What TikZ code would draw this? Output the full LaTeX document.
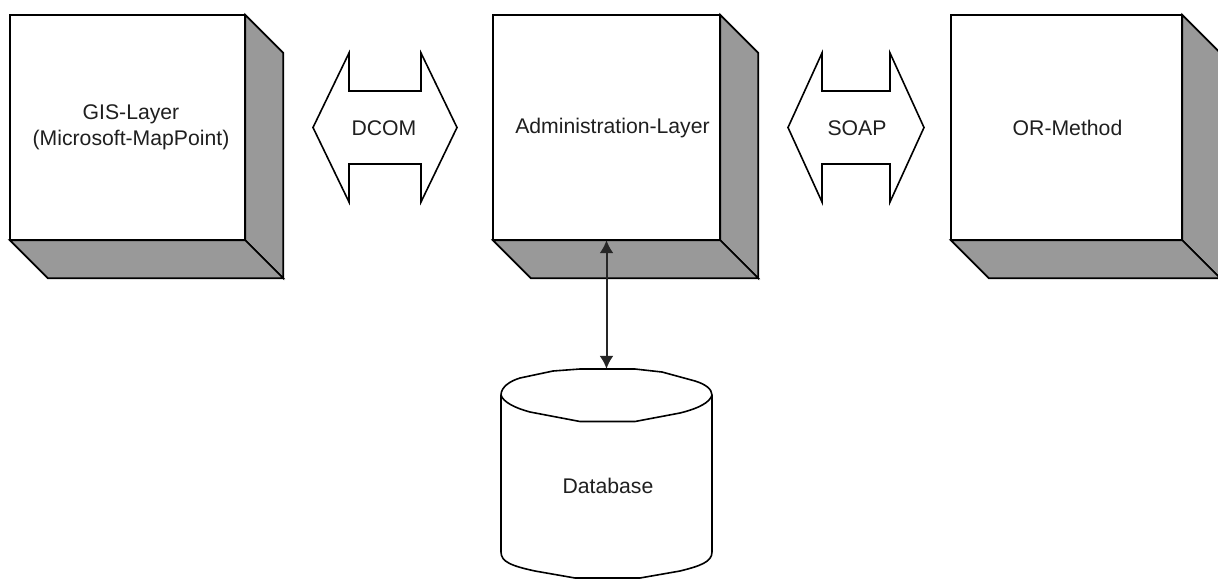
\documentclass[tikz,border=0pt]{standalone}
\usepackage{fontspec}
\setmainfont{Liberation Sans}
\usetikzlibrary{calc,arrows.meta}
\definecolor{sidegray}{HTML}{999999}
\tikzset{
  line/.style={draw=black,line width=1.7pt,line join=miter},
  front/.style={line,fill=white,inner sep=0pt},
  depth/.style={line,fill=sidegray},
  label/.style={inner sep=0pt,align=center,font=\fontsize{21.2}{26.5}\selectfont,text=black!88},
  link/.style={draw=black!85,line width=2pt,{Latex[length=13pt,width=14pt]}-{Latex[length=13pt,width=14pt]}},
  band/.style={line,fill=white,line width=1.6pt}
}
\begin{document}
\begin{tikzpicture}[x=1pt,y=-1pt]
\useasboundingbox (0,0) rectangle (1218,579);
\fill[white] (0,0) rectangle (1218,579);

% Blocks: depth faces, then front faces
\node[minimum width=235pt,minimum height=225pt,inner sep=0pt] (gis) at (127.5,127.5) {};
\node[minimum width=227pt,minimum height=225pt,inner sep=0pt] (admin) at (606.5,127.5) {};
\node[minimum width=231pt,minimum height=225pt,inner sep=0pt] (or) at (1066.5,127.5) {};
\foreach \b in {gis,admin,or}{
  \path[depth] (\b.north east) -- ($(\b.north east)+(38,38)$) -- ($(\b.south east)+(38,38)$) -- (\b.south east) -- cycle;
  \path[depth] (\b.south west) -- (\b.south east) -- ($(\b.south east)+(38,38)$) -- ($(\b.south west)+(38,38)$) -- cycle;
  \path[front] (\b.south west) rectangle (\b.north east);
}
\node[label] (gislabel) at (131,127.5) {GIS-Layer\\(Microsoft-MapPoint)};
\node[label] (adminlabel) at (612.5,128) {Administration-Layer};
\node[label] (orlabel) at (1067.5,128) {OR-Method};

% Double arrows
\coordinate (dcomc) at (385,127.5);
\coordinate (soapc) at (856,127.5);
\foreach \n/\o/\i in {dcomc/72/36,soapc/68/34}{
  \path[band] ($(\n)+(-\o,0)$) -- ($(\n)+(-\i,-74.5)$) -- ($(\n)+(-\i,-36.5)$) -- ($(\n)+(\i,-36.5)$) -- ($(\n)+(\i,-74.5)$) -- ($(\n)+(\o,0)$)
    -- ($(\n)+(\i,74.5)$) -- ($(\n)+(\i,36.5)$) -- ($(\n)+(-\i,36.5)$) -- ($(\n)+(-\i,74.5)$) -- cycle;
}
\node[label] (dcom) at (384,128) {DCOM};
\node[label] (soap) at (857,128) {SOAP};

% Database cylinder
\node[minimum width=211pt,minimum height=209pt,inner sep=0pt] (db) at (606.5,473.5) {};
\path[band] (501,395)
  .. controls (501,387) and (510,381) .. (520,378)
  -- (553,371) -- (580,369) -- (635,369) -- (662,372) -- (695,381)
  .. controls (705,384) and (712,389) .. (712,395)
  -- (712,552)
  .. controls (712,562) and (700,566) .. (680,571)
  -- (640,578) -- (575,578) -- (535,571)
  .. controls (512,566) and (501,562) .. (501,552)
  -- cycle;
\path[band,fill=none] (501,395)
  .. controls (503,402) and (515,408) .. (530,412)
  -- (580,421.5) -- (635,421.5) -- (680,413)
  .. controls (700,408) and (710,402) .. (712,395);
\node[label] (dblabel) at (608,486) {Database};

% Connector
\draw[link] (admin.south) -- (db.north);
\end{tikzpicture}
\end{document}
